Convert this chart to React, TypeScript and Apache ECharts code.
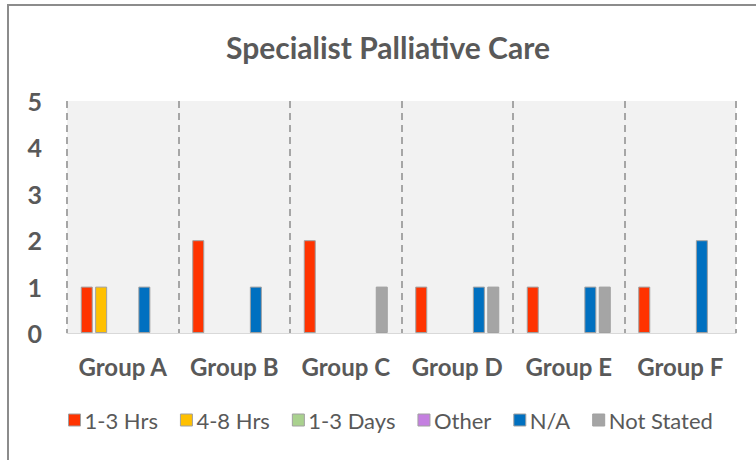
import React, { useEffect, useRef } from "react";
import * as echarts from "echarts";

const categories = ["Group A", "Group B", "Group C", "Group D", "Group E", "Group F"];
const seriesNames = ["1-3 Hrs", "4-8 Hrs", "1-3 Days", "Other", "N/A", "Not Stated"];
const seriesColors = ["#FF3300", "#FFC000", "#A9D18E", "#C47FE0", "#0070C0", "#A5A5A5"];
const hrs13 = [1, 2, 2, 1, 1, 1];
const hrs48 = [1, 0, 0, 0, 0, 0];
const days13 = [0, 0, 0, 0, 0, 0];
const other = [0, 0, 0, 0, 0, 0];
const na = [1, 1, 0, 1, 1, 2];
const notStated = [0, 0, 1, 1, 1, 0];
const yTicks = [0, 1, 2, 3, 4, 5];

const FONT = "Lato";

export default function App() {
  const ref = useRef<HTMLDivElement>(null);
  useEffect(() => {
    if (!ref.current) return;
    const chart = echarts.init(ref.current, null, { renderer: "svg" });
    const values = [hrs13, hrs48, days13, other, na, notStated];
    chart.setOption({
      animation: false,
      backgroundColor: "#ffffff",
      title: {
        text: "Specialist Palliative Care",
        left: 221,
        top: 27,
        textStyle: { fontFamily: FONT, fontSize: 30, fontWeight: "bold", color: "#595959" },
      },
      legend: {
        top: 404,
        left: 63,
        itemWidth: 12,
        itemHeight: 12,
        itemGap: 22,
        icon: "rect",
        textStyle: { fontFamily: FONT, fontSize: 22, fontWeight: "normal", color: "#595959", padding: [0, 0, 0, -1] },
        data: seriesNames.map((n, i) => ({
          name: n,
          itemStyle: { color: seriesColors[i], borderColor: "#a0a0a0", borderWidth: 1 },
        })),
      },
      grid: {
        left: 67,
        right: 20,
        top: 101,
        bottom: 127,
        show: true,
        backgroundColor: "#f2f2f2",
        borderWidth: 0,
      },
      xAxis: {
        type: "category",
        data: categories,
        axisLine: { show: true, lineStyle: { color: "#d9d9d9", width: 1 } },
        axisTick: { show: false, interval: 0 },
        axisLabel: { interval: 0, fontFamily: FONT, fontSize: 24, fontWeight: "bold", color: "#595959", margin: 21 },
        splitLine: {
          show: true,
          interval: 0,
          showMinLine: true,
          showMaxLine: true,
          lineStyle: { color: "#a6a6a6", width: 2, type: [7, 5] },
        },
      },
      yAxis: {
        type: "value",
        min: yTicks[0],
        max: yTicks[yTicks.length - 1],
        interval: 1,
        axisLine: { show: false },
        axisTick: { show: false },
        splitLine: { show: false },
        axisLabel: { fontFamily: FONT, fontSize: 25, fontWeight: "bold", color: "#595959", margin: 25 },
      },
      graphic: [
        {
          type: "rect",
          shape: { x: 8, y: 5, width: 800, height: 500 },
          style: { fill: "none", stroke: "#8c8c8c", lineWidth: 2 },
          silent: true,
          z: 100,
        },
      ],
      series: seriesNames.map((n, i) => ({
        name: n,
        type: "bar",
        data: values[i].map((v) => (v === 0 ? "-" : v)),
        barWidth: 12,
        barGap: "20%",
        itemStyle: { color: seriesColors[i], borderColor: "#a0a0a0", borderWidth: 1 },
      })),
    });
    return () => chart.dispose();
  }, []);
  return <div ref={ref} style={{ position: "fixed", left: 0, top: 0, width: 756, height: 460 }} />;
}
